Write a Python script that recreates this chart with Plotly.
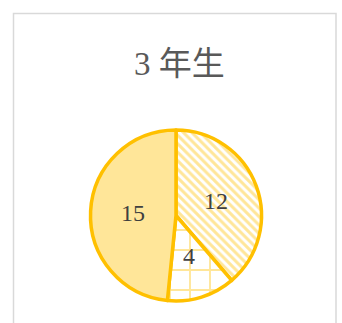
import math
import plotly.graph_objects as go

labels = ["A", "B", "C"]
values = [12, 4, 15]
title_text = "3 年生"

W, H = 342, 323
cx, cy, r = 176, 215.5, 85.5

fig = go.Figure(go.Pie(
    labels=labels,
    values=values,
    sort=False,
    direction="clockwise",
    rotation=0,
    textinfo="none",
    marker=dict(
        colors=["white", "white", "#FFE699"],
        line=dict(color="#FFC000", width=3.5),
        pattern=dict(shape=["\\", "+", ""], fgcolor="#FFE699", bgcolor="white",
                     size=[6, 20, 8], solidity=[0.5, 0.18, 0.3], fillmode="replace"),
    ),
    domain=dict(x=[(cx - r) / W, (cx + r) / W], y=[(H - cy - r) / H, (H - cy + r) / H]),
    showlegend=False,
    hoverinfo="none",
))

# data labels at half radius along each slice's mid-angle
total = sum(values)
acc = 0
for v in values:
    mid = (acc + v / 2) / total * 2 * math.pi
    acc += v
    px = cx + 0.5 * r * math.sin(mid)
    py = cy - 0.5 * r * math.cos(mid)
    fig.add_annotation(text=str(v), xref="paper", yref="paper",
                       x=px / W, y=(H - py) / H, xanchor="center", yanchor="middle",
                       showarrow=False,
                       font=dict(family="Liberation Serif, DejaVu Serif, serif", size=24, color="#404040"))

fig.add_shape(type="rect", xref="paper", yref="paper",
              x0=13.5 / W, x1=336 / W, y0=-0.05, y1=(H - 13.5) / H,
              line=dict(color="#D9D9D9", width=1.5), fillcolor="rgba(0,0,0,0)", layer="below")

fig.add_annotation(text=title_text, xref="paper", yref="paper",
                   x=179 / W, y=(H - 64) / H, xanchor="center", yanchor="middle",
                   showarrow=False,
                   font=dict(family="Liberation Serif, Noto Sans CJK JP", size=33, color="#595959"))

fig.update_layout(width=W, height=H, margin=dict(l=0, r=0, t=0, b=0),
                  paper_bgcolor="white", plot_bgcolor="white")

fig.write_html("out.html")
